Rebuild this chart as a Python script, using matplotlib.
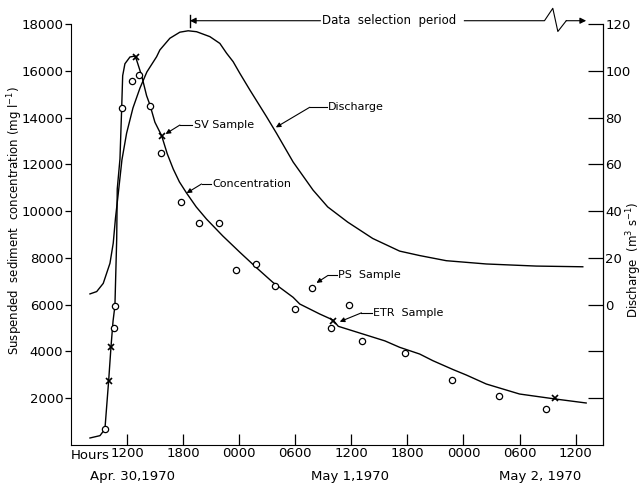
import matplotlib
matplotlib.use("Agg")
import matplotlib.pyplot as plt

plt.rcParams['font.family'] = ['DejaVu Sans']

# hours counted from 0000 Apr 30, 1970
conc_curve_h = [8.03, 9.1, 9.63, 10.03, 10.28, 10.5, 10.7, 10.89, 10.95, 11.24, 11.42,
                11.53, 11.77, 12.31, 12.84, 13.02, 13.56, 14.09, 14.45, 14.98, 15.7,
                16.3, 16.94, 17.6, 18.37, 19.4, 20.5, 22.25, 24.07, 25.85, 27.6,
                29.77, 30.48, 32.62, 34.04, 34.6, 37.6, 39.6, 41.17, 43.31, 44.73,
                46.87, 48.3, 50.44, 51.86, 54.0, 57.82, 61.13]
conc_curve_v = [300, 400, 680, 2750, 4200, 5300, 5950, 8800, 10950, 12230, 14365,
                15790, 16300, 16590, 16630, 16460, 15790, 14935, 14540, 13800, 13224,
                12450, 11800, 11250, 10770, 10180, 9660, 8935, 8240, 7580, 6955,
                6314, 6028, 5600, 5344, 5075, 4700, 4450, 4177, 3890, 3604,
                3228, 2993, 2608, 2437, 2180, 1967, 1796]

discharge_h = [8.03, 8.75, 9.45, 10.17, 10.52, 10.76, 11.06, 11.45, 11.95, 12.63, 13.38,
               14.12, 15.16, 15.51, 16.58, 17.65, 18.54, 19.44, 20.86, 21.93, 22.65,
               23.35, 24.07, 25.14, 26.92, 27.99, 29.77, 31.9, 33.47, 35.61, 38.29,
               41.17, 43.31, 46.16, 50.44, 55.79, 60.77]
discharge_v = [4.6, 5.6, 9.1, 17.7, 26.3, 37.0, 47.6, 61.9, 73.3, 84.1, 92.6,
               99.5, 106.0, 108.9, 113.9, 116.5, 117.1, 116.7, 114.6, 111.7, 107.5,
               103.9, 98.9, 91.8, 80.4, 73.3, 61.0, 49.0, 41.8, 35.3, 28.3,
               22.9, 21.0, 18.8, 17.4, 16.5, 16.2]

circle_h = [9.63, 10.56, 10.7, 11.5, 12.49, 13.3, 14.45, 15.59, 17.72, 19.72, 21.82,
            23.71, 25.78, 27.84, 30.02, 31.8, 33.87, 35.75, 37.14, 41.74, 46.73,
            51.79, 56.85]
circle_v = [700, 5000, 5950, 14400, 15550, 15800, 14500, 12500, 10400, 9500, 9500,
            7500, 7750, 6800, 5800, 6700, 5000, 6000, 4450, 3950, 2800,
            2100, 1550]

cross_h = [10.03, 10.28, 12.95, 15.7, 34.04, 57.82]
cross_v = [2750, 4200, 16600, 13200, 5300, 2000]

xtick_pos = [12, 18, 24, 30, 36, 42, 48, 54, 60]
xtick_labels = ['1200', '1800', '0000', '0600', '1200', '1800', '0000', '0600', '1200']
date_labels = ['Apr. 30,1970', 'May 1,1970', 'May 2, 1970']
date_pos = [12.6, 35.9, 56.2]

left_ticks = [2000, 4000, 6000, 8000, 10000, 12000, 14000, 16000, 18000]
right_ticks = [-40, -20, 0, 20, 40, 60, 80, 100, 120]
right_labels = ['', '', '0', '20', '40', '60', '80', '100', '120']

fig = plt.figure(figsize=(6.44, 4.87), dpi=100)
ax = fig.add_axes([71 / 644, 1 - 445 / 487, (602.7 - 71) / 644, 421 / 487])
ax2 = ax.twinx()

ax.plot(conc_curve_h, conc_curve_v, color='k', lw=1.0, zorder=2)
ax.plot(circle_h, circle_v, 'o', ms=4.5, mfc='white', mec='k', mew=0.9, zorder=3)
ax.plot(cross_h, cross_v, 'x', ms=5, mec='k', mew=1.2, zorder=3)
ax2.plot(discharge_h, discharge_v, color='k', lw=1.0)

ax.set_xlim(6, 62.9)
ax.set_ylim(0, 18000)
ax2.set_ylim(-60, 120)

for a in (ax, ax2):
    a.spines['top'].set_visible(False)
ax2.spines['left'].set_visible(False)
ax2.spines['bottom'].set_visible(False)

ax.set_yticks(left_ticks)
ax.set_yticklabels([str(t) for t in left_ticks])
ax.tick_params(axis='y', direction='out', length=4, pad=1.5, labelsize=9.5, width=0.9)
ax.set_xticks(xtick_pos)
ax.set_xticklabels(xtick_labels)
ax.tick_params(axis='x', direction='in', length=8, pad=1.5, labelsize=9.5, width=0.9)
ax2.set_yticks(right_ticks)
ax2.set_yticklabels(right_labels)
ax2.tick_params(axis='y', direction='in', length=11, pad=2, labelsize=9.5, width=0.9)

xt = ax.get_xaxis_transform()
ax.text(6, -0.026, 'Hours', transform=xt, ha='left', va='center', fontsize=9.5)
for d, p in zip(date_labels, date_pos):
    ax.text(p, -0.074, d, transform=xt, ha='center', va='center', fontsize=9.5)

fig.text(15 / 644, 1 - 221 / 487, 'Suspended  sediment  concentration (mg l$^{-1}$)',
         rotation=90, ha='center', va='center', fontsize=8.5)
fig.text(634 / 644, 1 - 260 / 487, 'Discharge  (m$^3$ s$^{-1}$)',
         rotation=90, ha='center', va='center', fontsize=8.5)

# data selection period arrow above the axes
ya = 1.0078
ax.plot([18.72, 18.72], [0.9936, 1.0214], transform=xt, color='k', lw=1.0, clip_on=False)
ax.annotate('', xy=(18.72, ya), xytext=(32.7, ya), xycoords=xt, textcoords=xt,
            arrowprops=dict(arrowstyle='-|>', color='k', lw=0.8, mutation_scale=9,
                            shrinkA=0, shrinkB=0))
ax.text(32.85, ya, 'Data  selection  period', transform=xt, ha='left', va='center', fontsize=8.5)
ax.plot([48.1, 56.67, 57.56, 58.1, 59.0], [ya, ya, 1.0373, 0.9822, ya],
        transform=xt, color='k', lw=0.8, clip_on=False)
ax.annotate('', xy=(61.13, ya), xytext=(59.0, ya), xycoords=xt, textcoords=xt,
            arrowprops=dict(arrowstyle='-|>', color='k', lw=0.8, mutation_scale=9,
                            shrinkA=0, shrinkB=0))


def leader(label, text_x, y, elbow_x, tip):
    ax.plot([elbow_x, text_x - 0.15], [y, y], color='k', lw=0.8)
    ax.annotate('', xy=tip, xytext=(elbow_x, y),
                arrowprops=dict(arrowstyle='-|>', color='k', lw=0.8, mutation_scale=7,
                                shrinkA=0, shrinkB=0))
    ax.text(text_x, y, label, ha='left', va='center', fontsize=8)


leader('SV Sample', 19.15, 13680, 17.65, (16.12, 13300))
leader('Discharge', 33.5, 14440, 31.55, (27.92, 13580))
leader('Concentration', 21.15, 11160, 19.97, (18.37, 10770))
leader('PS  Sample', 34.58, 7250, 33.5, (32.27, 6930))
leader('ETR  Sample', 38.32, 5650, 37.08, (34.76, 5270))

fig.savefig('out.png', dpi=100)
